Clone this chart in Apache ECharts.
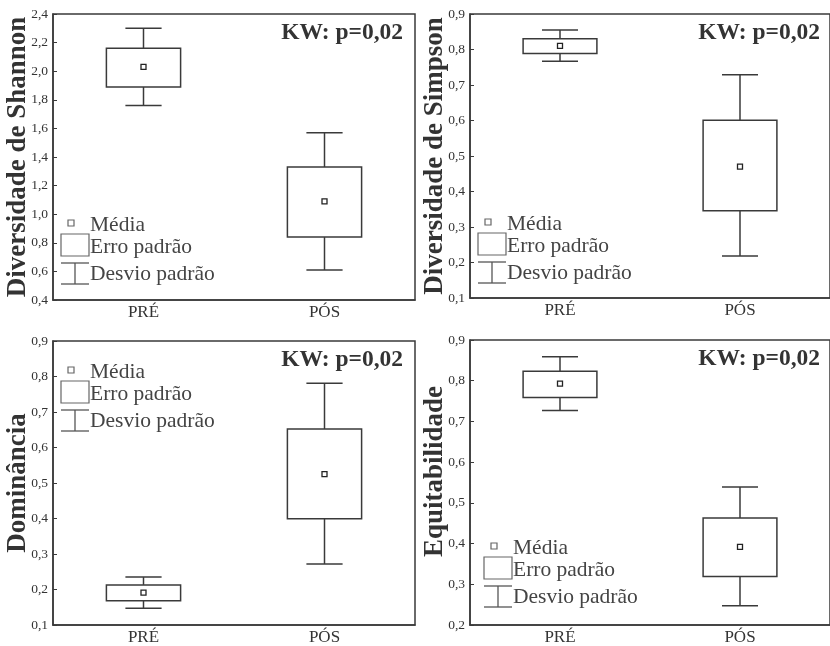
<!DOCTYPE html>
<html>
<head>
<meta charset="utf-8">
<script src="https://cdn.jsdelivr.net/npm/echarts@6/dist/echarts.min.js"></script>
<style>
html,body{margin:0;padding:0;background:#fff;}
#chart{width:830px;height:646px;}
</style>
</head>
<body>
<div id="chart"></div>
<script>
// ---- data ----
var categories = ['PRÉ', 'PÓS'];

var shannonMean   = [2.03, 1.09];
var shannonSeLow  = [1.89, 0.84];
var shannonSeHigh = [2.16, 1.33];
var shannonSdLow  = [1.76, 0.61];
var shannonSdHigh = [2.30, 1.57];

var simpsonMean   = [0.81, 0.47];
var simpsonSeLow  = [0.789, 0.346];
var simpsonSeHigh = [0.830, 0.601];
var simpsonSdLow  = [0.767, 0.218];
var simpsonSdHigh = [0.855, 0.729];

var dominanciaMean   = [0.191, 0.525];
var dominanciaSeLow  = [0.168, 0.399];
var dominanciaSeHigh = [0.213, 0.652];
var dominanciaSdLow  = [0.147, 0.272];
var dominanciaSdHigh = [0.235, 0.781];

var equitMean   = [0.793, 0.392];
var equitSeLow  = [0.759, 0.319];
var equitSeHigh = [0.823, 0.463];
var equitSdLow  = [0.727, 0.247];
var equitSdHigh = [0.859, 0.539];

var yNames = ['Diversidade de Shannon', 'Diversidade de Simpson', 'Dominância', 'Equitabilidade'];
var yMins = [0.4, 0.1, 0.1, 0.2];
var yMaxs = [2.4, 0.9, 0.9, 0.9];
var yIntervals = [0.2, 0.1, 0.1, 0.1];
var kwText = 'KW: p=0,02';
var legendLabels = ['Média', 'Erro padrão', 'Desvio padrão'];

// ---- layout ----
var SERIF = '"Liberation Serif","Times New Roman",serif';
var LINE = '#3a3a3a';
var TEXT = '#333';

var grids = [
  {left: 53, top: 14, width: 362, height: 286},
  {left: 470, top: 14, width: 361, height: 284},
  {left: 53, top: 341, width: 362, height: 285},
  {left: 470, top: 340, width: 361, height: 285}
];
var legendBase = [[61, 223], [478, 222], [61, 370], [484, 546]];

var panels = [
  [shannonMean, shannonSeLow, shannonSeHigh, shannonSdLow, shannonSdHigh],
  [simpsonMean, simpsonSeLow, simpsonSeHigh, simpsonSdLow, simpsonSdHigh],
  [dominanciaMean, dominanciaSeLow, dominanciaSeHigh, dominanciaSdLow, dominanciaSdHigh],
  [equitMean, equitSeLow, equitSeHigh, equitSdLow, equitSdHigh]
];

function fmt(v) { return (Math.round(v * 10) / 10).toFixed(1).replace('.', ','); }

function renderBox(params, api) {
  var x = api.value(0);
  var mean = api.value(1), seLo = api.value(2), seHi = api.value(3), sdLo = api.value(4), sdHi = api.value(5);
  var band = api.size([1, 0])[0];
  var bw = band * 0.41, cw = band * 0.2;
  var pM = api.coord([x, mean]);
  var pSeLo = api.coord([x, seLo]);
  var pSeHi = api.coord([x, seHi]);
  var pSdLo = api.coord([x, sdLo]);
  var pSdHi = api.coord([x, sdHi]);
  var cx = pM[0];
  var st = {stroke: LINE, lineWidth: 1.5, fill: null};
  return {
    type: 'group',
    children: [
      {type: 'line', shape: {x1: cx, y1: pSdHi[1], x2: cx, y2: pSeHi[1]}, style: st},
      {type: 'line', shape: {x1: cx, y1: pSeLo[1], x2: cx, y2: pSdLo[1]}, style: st},
      {type: 'line', shape: {x1: cx - cw / 2, y1: pSdHi[1], x2: cx + cw / 2, y2: pSdHi[1]}, style: st},
      {type: 'line', shape: {x1: cx - cw / 2, y1: pSdLo[1], x2: cx + cw / 2, y2: pSdLo[1]}, style: st},
      {type: 'rect', shape: {x: cx - bw / 2, y: pSeHi[1], width: bw, height: pSeLo[1] - pSeHi[1]}, style: {stroke: LINE, lineWidth: 1.5, fill: '#fff'}},
      {type: 'rect', shape: {x: cx - 2.5, y: pM[1] - 2.5, width: 5, height: 5}, style: {stroke: '#222', lineWidth: 1.3, fill: '#fff'}}
    ]
  };
}

var option = {
  animation: false,
  backgroundColor: '#fff',
  grid: grids.map(function (g) {
    return {left: g.left, top: g.top, width: g.width, height: g.height, show: true, borderColor: LINE, borderWidth: 1.5, backgroundColor: 'transparent'};
  }),
  xAxis: grids.map(function (g, i) {
    return {
      type: 'category', gridIndex: i, data: categories,
      axisLine: {lineStyle: {color: LINE, width: 1.5}},
      axisTick: {inside: true, alignWithLabel: true, length: 4, lineStyle: {color: LINE}},
      axisLabel: {fontFamily: SERIF, fontSize: 17, color: TEXT, margin: 4}
    };
  }),
  yAxis: grids.map(function (g, i) {
    return {
      type: 'value', gridIndex: i, min: yMins[i], max: yMaxs[i], interval: yIntervals[i],
      name: yNames[i], nameLocation: 'middle', nameGap: 21, nameMoveOverlap: false,
      nameTextStyle: {fontFamily: SERIF, fontSize: 27, fontWeight: 'bold', color: TEXT,
        padding: i === 3 ? [0, 0, 0, 22] : 0},
      axisLine: {show: true, lineStyle: {color: LINE, width: 1.5}},
      axisTick: {show: true, inside: true, length: 4, lineStyle: {color: LINE}},
      splitLine: {show: false},
      axisLabel: {fontFamily: SERIF, fontSize: 13.5, color: TEXT, margin: 5, formatter: fmt}
    };
  }),
  series: panels.map(function (p, i) {
    var data = categories.map(function (c, k) {
      return [k, p[0][k], p[1][k], p[2][k], p[3][k], p[4][k]];
    });
    return {
      type: 'custom', xAxisIndex: i, yAxisIndex: i,
      renderItem: renderBox,
      encode: {x: 0, y: [1, 2, 3, 4, 5]},
      data: data,
      silent: true
    };
  }),
  graphic: []
};

// KW labels
grids.forEach(function (g) {
  option.graphic.push({
    type: 'text',
    x: g.left + Math.min(g.width, 360) - 10, y: g.top + 19,
    style: {text: kwText, font: 'bold 23.5px ' + SERIF, fill: TEXT, textAlign: 'right', textVerticalAlign: 'middle'}
  });
});

// Legends
legendBase.forEach(function (b) {
  var x = b[0], y = b[1];
  var st = {stroke: '#555', lineWidth: 1.3, fill: null};
  option.graphic.push(
    {type: 'rect', shape: {x: x + 7, y: y - 3, width: 6, height: 6}, style: {stroke: '#666', lineWidth: 1.2, fill: '#fff'}},
    {type: 'rect', shape: {x: x, y: y + 11, width: 28, height: 22}, style: {stroke: '#666', lineWidth: 1.2, fill: '#fff'}},
    {type: 'line', shape: {x1: x, y1: y + 40, x2: x + 28, y2: y + 40}, style: st},
    {type: 'line', shape: {x1: x, y1: y + 61, x2: x + 28, y2: y + 61}, style: st},
    {type: 'line', shape: {x1: x + 14, y1: y + 40, x2: x + 14, y2: y + 61}, style: st},
    {type: 'text', x: x + 29, y: y + 2, style: {text: legendLabels[0], font: '21.5px ' + SERIF, fill: '#444', textVerticalAlign: 'middle'}},
    {type: 'text', x: x + 29, y: y + 24, style: {text: legendLabels[1], font: '21.5px ' + SERIF, fill: '#444', textVerticalAlign: 'middle'}},
    {type: 'text', x: x + 29, y: y + 51, style: {text: legendLabels[2], font: '21.5px ' + SERIF, fill: '#444', textVerticalAlign: 'middle'}}
  );
});

var chart = echarts.init(document.getElementById('chart'), null, {renderer: 'canvas'});
chart.setOption(option);
</script>
</body>
</html>
